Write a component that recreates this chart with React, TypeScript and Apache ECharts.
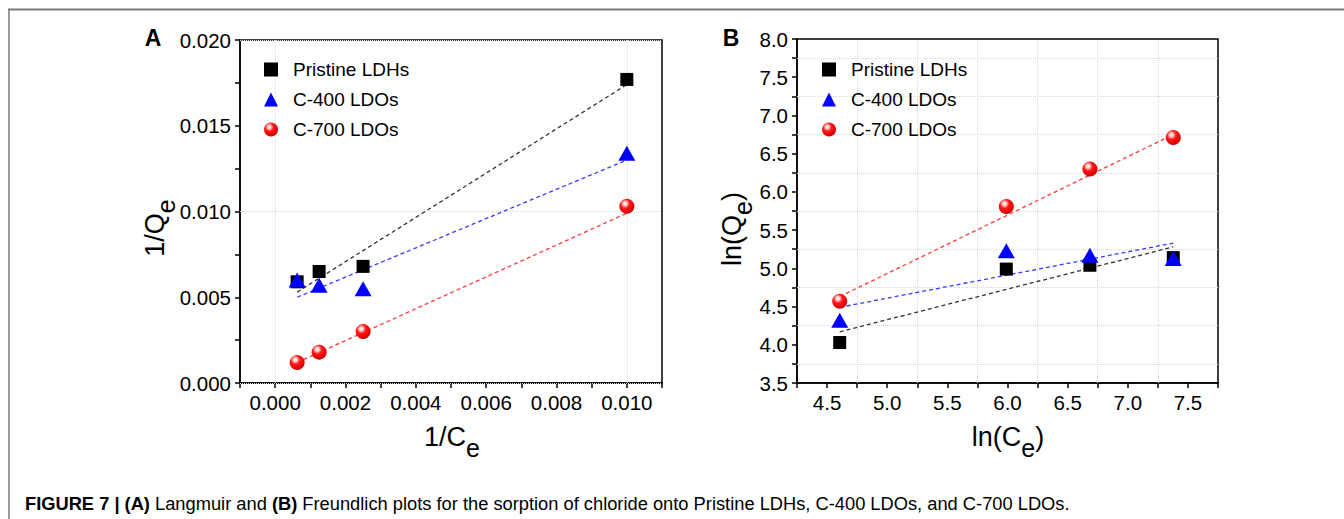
import React, { useEffect, useRef } from "react";
import * as echarts from "echarts";

// ---- Data ----
const seriesNames = ["Pristine LDHs", "C-400 LDOs", "C-700 LDOs"];

// Panel A: Langmuir (1/Ce vs 1/Qe)
const xA = [0.000625, 0.00125, 0.0025, 0.01];
const pristineA = [0.0059, 0.0065, 0.0068, 0.0177];
const c400A = [0.006, 0.0057, 0.0055, 0.0134];
const c700A = [0.0012, 0.0018, 0.003, 0.0103];
const fitXA = [0.000625, 0.01];
const fitPristineA = [0.0053, 0.0174];
const fitC400A = [0.005, 0.013];
const fitC700A = [0.0012, 0.0099];

// Panel B: Freundlich (ln Ce vs ln Qe)
const xB = [4.605, 5.99, 6.685, 7.378];
const pristineB = [4.03, 4.99, 5.04, 5.14];
const c400B = [4.32, 5.23, 5.17, 5.13];
const c700B = [4.57, 5.81, 6.3, 6.71];
const fitXB = [4.605, 7.378];
const fitPristineB = [4.17, 5.28];
const fitC400B = [4.49, 5.33];
const fitC700B = [4.63, 6.75];

// Axis ranges / steps
const axisAX = { min: -0.001, max: 0.011, step: 0.001, digits: 3 };
const axisAY = { min: 0, max: 0.02, step: 0.0025, digits: 3 };
const axisBX = { min: 4.25, max: 7.75, step: 0.25, digits: 1 };
const axisBY = { min: 3.5, max: 8.0, step: 0.25, digits: 1 };

const FONT = "Liberation Sans, Arial, Helvetica, sans-serif";

const zip = (xs: number[], ys: number[]) => xs.map((x, i) => [x, ys[i]]);

const oddSteps = (ax: { min: number; max: number; step: number }) => {
  const out: number[] = [];
  const k0 = Math.round(ax.min / ax.step);
  const k1 = Math.round(ax.max / ax.step);
  for (let k = k0 + 1; k < k1; k++) {
    if (Math.abs(k) % 2 === 1) out.push(k * ax.step);
  }
  return out;
};

const makeAxis = (
  ax: { min: number; max: number; step: number; digits: number },
  gridIndex: number
) => ({
  type: "value",
  gridIndex,
  min: ax.min,
  max: ax.max,
  interval: ax.step,
  axisLine: { show: true, onZero: false, lineStyle: { color: "#000", width: 1.5 } },
  axisTick: { show: true, inside: false, length: 5, lineStyle: { color: "#000", width: 1.5 } },
  axisLabel: {
    color: "#000",
    fontSize: 20.5,
    fontFamily: FONT,
    margin: 9,
    formatter: (v: number) => {
      const k = Math.round(v / ax.step);
      return Math.abs(k) % 2 === 0 ? v.toFixed(ax.digits) : "";
    },
  },
  splitLine: { show: false },
});

const sphere = {
  type: "radial",
  x: 0.38,
  y: 0.32,
  r: 0.72,
  colorStops: [
    { offset: 0, color: "#ffffff" },
    { offset: 0.18, color: "#ffc8c8" },
    { offset: 0.42, color: "#ff1a1a" },
    { offset: 0.85, color: "#e00000" },
    { offset: 1, color: "#a80000" },
  ],
};

const gridLineStyle = { color: "#d8d8d8", type: "dotted", width: 1 };

const fitLine = (name: string, xs: number[], ys: number[], color: string, idx: number, markData?: any[]) => ({
  type: "line",
  name: name + " fit",
  xAxisIndex: idx,
  yAxisIndex: idx,
  data: zip(xs, ys),
  showSymbol: false,
  symbol: "none",
  silent: true,
  z: 2,
  lineStyle: { color, width: 1.3, type: [4, 3] },
  markLine: markData
    ? {
        silent: true,
        symbol: "none",
        label: { show: false },
        lineStyle: gridLineStyle,
        data: markData,
        z: 1,
      }
    : undefined,
});

const scatter = (name: string, xs: number[], ys: number[], idx: number) => {
  const i = seriesNames.indexOf(name);
  const base: any = {
    type: "scatter",
    name,
    xAxisIndex: idx,
    yAxisIndex: idx,
    data: zip(xs, ys),
    z: 5,
  };
  if (i === 0) {
    base.symbol = "rect";
    base.symbolSize = 13;
    base.itemStyle = { color: "#000", opacity: 1 };
  } else if (i === 1) {
    base.symbol = "triangle";
    base.symbolSize = [17, 15];
    base.itemStyle = { color: "#0000ff", opacity: 1 };
  } else {
    base.symbol = "circle";
    base.symbolSize = 15;
    base.itemStyle = { color: sphere, opacity: 1 };
  }
  return base;
};

const gridMarks = (ax: any, ay: any) => [
  ...oddSteps(ax).map((v) => ({ xAxis: v })),
  ...oddSteps(ay).map((v) => ({ yAxis: v })),
];

const legendCfg = (left: number) => ({
  left,
  top: 60,
  orient: "vertical",
  padding: 0,
  itemWidth: 14,
  itemHeight: 14,
  itemGap: 11,
  selectedMode: false,
  data: [
    { name: seriesNames[0], icon: "rect" },
    { name: seriesNames[1], icon: "triangle" },
    { name: seriesNames[2], icon: "circle" },
  ],
  textStyle: { fontSize: 19, fontFamily: FONT, color: "#000", padding: [0, 0, 0, 10] },
});

const titleRich = {
  a: { fontSize: 27, fontFamily: FONT, color: "#000", lineHeight: 30, verticalAlign: "top" },
  b: { fontSize: 25, fontFamily: FONT, color: "#000", lineHeight: 37, verticalAlign: "bottom" },
  c: { fontSize: 27, fontFamily: FONT, color: "#000", lineHeight: 30, verticalAlign: "top" },
};

export default function App() {
  const ref = useRef<HTMLDivElement>(null);
  useEffect(() => {
    if (!ref.current) return;
    const chart = echarts.init(ref.current, undefined, { renderer: "svg" });
    const option: any = {
      animation: false,
      backgroundColor: "#fff",
      grid: [
        { left: 240, top: 40, width: 422, height: 343, show: true, borderColor: "#000", borderWidth: 1.5, backgroundColor: "transparent" },
        { left: 797, top: 39, width: 421, height: 344, show: true, borderColor: "#000", borderWidth: 1.5, backgroundColor: "transparent" },
      ],
      xAxis: [makeAxis(axisAX, 0), makeAxis(axisBX, 1)],
      yAxis: [makeAxis(axisAY, 0), makeAxis(axisBY, 1)],
      legend: [legendCfg(264), legendCfg(822)],
      series: [
        fitLine(seriesNames[0], fitXA, fitPristineA, "#333333", 0, gridMarks(axisAX, axisAY)),
        fitLine(seriesNames[1], fitXA, fitC400A, "#3a3aff", 0),
        fitLine(seriesNames[2], fitXA, fitC700A, "#ff3a3a", 0),
        scatter(seriesNames[0], xA, pristineA, 0),
        scatter(seriesNames[1], xA, c400A, 0),
        scatter(seriesNames[2], xA, c700A, 0),
        fitLine(seriesNames[0], fitXB, fitPristineB, "#333333", 1, gridMarks(axisBX, axisBY)),
        fitLine(seriesNames[1], fitXB, fitC400B, "#3a3aff", 1),
        fitLine(seriesNames[2], fitXB, fitC700B, "#ff3a3a", 1),
        scatter(seriesNames[0], xB, pristineB, 1),
        scatter(seriesNames[1], xB, c400B, 1),
        scatter(seriesNames[2], xB, c700B, 1),
      ],
      graphic: [
        { type: "line", shape: { x1: 8, y1: 9.5, x2: 1344, y2: 9.5 }, style: { stroke: "#7a7a7a", lineWidth: 2 } },
        { type: "line", shape: { x1: 9, y1: 9, x2: 9, y2: 519 }, style: { stroke: "#7a7a7a", lineWidth: 1.5 } },
        { type: "text", x: 153, y: 38, style: { text: "A", font: `bold 23px ${FONT}`, fill: "#000", align: "center", verticalAlign: "middle" } },
        { type: "text", x: 731, y: 38, style: { text: "B", font: `bold 23px ${FONT}`, fill: "#000", align: "center", verticalAlign: "middle" } },
        { type: "text", x: 452, y: 442, style: { text: "{a|1/C}{b|e}", rich: titleRich, align: "center", verticalAlign: "middle" } },
        { type: "text", x: 1008, y: 442, style: { text: "{a|ln(C}{b|e}{c|)}", rich: titleRich, align: "center", verticalAlign: "middle" } },
        { type: "text", x: 160, y: 228, rotation: Math.PI / 2, style: { text: "{a|1/Q}{b|e}", rich: titleRich, align: "center", verticalAlign: "middle" } },
        { type: "text", x: 737, y: 229, rotation: Math.PI / 2, style: { text: "{a|ln(Q}{b|e}{c|)}", rich: titleRich, align: "center", verticalAlign: "middle" } },
        {
          type: "text",
          x: 25,
          y: 503,
          style: {
            text: "{b|FIGURE 7 | (A)}{r| Langmuir and }{b|(B)}{r| Freundlich plots for the sorption of chloride onto Pristine LDHs, C-400 LDOs, and C-700 LDOs.}",
            rich: {
              b: { fontSize: 18.3, fontWeight: "bold", fontFamily: FONT, color: "#000" },
              r: { fontSize: 18.3, fontFamily: FONT, color: "#000" },
            },
            align: "left",
            verticalAlign: "middle",
          },
        },
      ],
    };
    chart.setOption(option);
    return () => chart.dispose();
  }, []);
  return <div ref={ref} style={{ position: "fixed", left: 0, top: 0, width: 1344, height: 519 }} />;
}
